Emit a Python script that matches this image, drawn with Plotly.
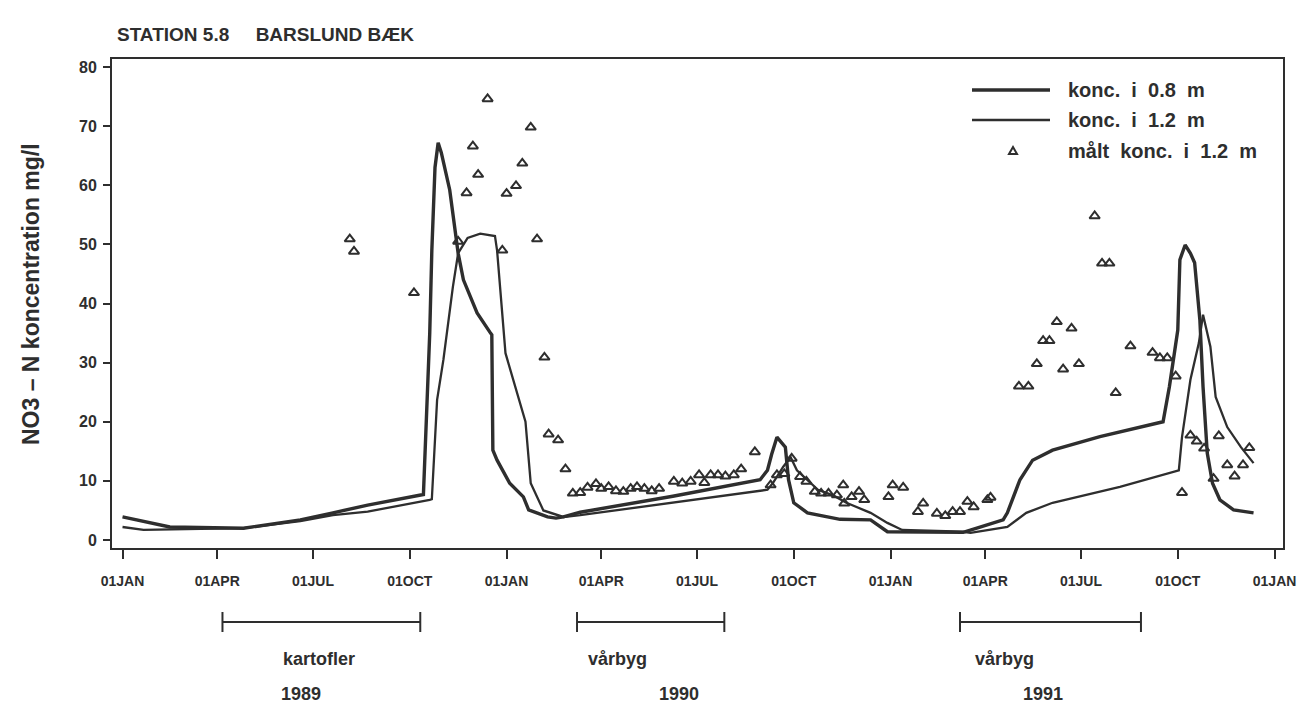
import plotly.graph_objects as go
import pandas as pd

# ---------------- data ----------------
conc08_dates = ["1989-01-01", "1989-02-15", "1989-04-26", "1989-06-19", "1989-07-20", "1989-08-22",
                "1989-10-14", "1989-10-20", "1989-10-22", "1989-10-25", "1989-10-28", "1989-10-31",
                "1989-11-08", "1989-11-16", "1989-11-21", "1989-12-04", "1989-12-16", "1989-12-18",
                "1989-12-19", "1989-12-23", "1990-01-04", "1990-01-17", "1990-01-22", "1990-02-09",
                "1990-02-17", "1990-02-24", "1990-03-12", "1990-06-08", "1990-08-30", "1990-09-06",
                "1990-09-10", "1990-09-15", "1990-09-23", "1990-09-26", "1990-10-01", "1990-10-14",
                "1990-11-14", "1990-12-13", "1990-12-29", "1991-03-11", "1991-03-27", "1991-04-18",
                "1991-04-22", "1991-05-04", "1991-05-16", "1991-06-04", "1991-07-19", "1991-08-07",
                "1991-09-17", "1991-09-23", "1991-10-01", "1991-10-03", "1991-10-08", "1991-10-13",
                "1991-10-17", "1991-10-22", "1991-10-25", "1991-10-29", "1991-11-03", "1991-11-10",
                "1991-11-23", "1991-12-12"]
conc08_values = [3.9, 2.2, 2.0, 3.4, 4.6, 5.9,
                 7.7, 35.0, 49.0, 63.0, 67.2, 65.5,
                 59.2, 48.5, 44.0, 38.4, 35.2, 34.7,
                 15.2, 13.5, 9.6, 7.3, 5.1, 3.9,
                 3.7, 3.9, 4.7, 7.4, 10.2, 11.8,
                 14.5, 17.4, 15.7, 10.2, 6.3, 4.6,
                 3.5, 3.4, 1.4, 1.3, 2.2, 3.4,
                 4.6, 10.2, 13.5, 15.2, 17.5, 18.3,
                 20.0, 25.9, 35.5, 47.4, 49.9, 48.5,
                 46.9, 37.2, 25.9, 14.7, 9.6, 6.8,
                 5.1, 4.6]

conc12_dates = ["1989-01-01", "1989-01-21", "1989-04-26", "1989-06-19", "1989-07-20", "1989-08-22",
                "1989-10-20", "1989-10-22", "1989-10-27", "1989-11-02", "1989-11-11", "1989-11-16",
                "1989-11-25", "1989-12-07", "1989-12-21", "1989-12-23", "1989-12-31", "1990-01-19",
                "1990-01-24", "1990-02-05", "1990-02-24", "1990-03-12", "1990-09-06", "1990-09-11",
                "1990-09-21", "1990-09-28", "1990-10-04", "1990-10-14", "1990-10-24", "1990-11-08",
                "1990-11-20", "1990-12-13", "1990-12-29", "1991-01-12", "1991-03-11", "1991-03-18",
                "1991-04-03", "1991-04-22", "1991-05-10", "1991-06-04", "1991-08-07", "1991-10-02",
                "1991-10-05", "1991-10-13", "1991-10-21", "1991-10-25", "1991-11-01", "1991-11-06",
                "1991-11-17", "1991-11-30", "1991-12-12"]
conc12_values = [2.2, 1.7, 2.0, 3.2, 4.2, 4.8,
                 6.8, 6.9, 23.7, 30.5, 42.8, 48.5,
                 51.1, 51.8, 51.4, 49.0, 31.6, 20.0,
                 9.6, 5.0, 3.9, 4.2, 8.5, 9.6,
                 12.4, 14.0, 11.8, 10.2, 8.5, 7.5,
                 6.3, 4.6, 2.9, 1.7, 1.4, 1.2,
                 1.7, 2.2, 4.6, 6.3, 9.0, 11.8,
                 17.4, 27.1, 33.3, 38.1, 32.7, 24.2,
                 19.1, 15.7, 13.0]

measured_dates = ["1989-08-05", "1989-08-09", "1989-10-05", "1989-11-16", "1989-11-24", "1989-11-30",
                  "1989-12-05", "1989-12-14", "1989-12-28", "1990-01-01", "1990-01-10", "1990-01-16",
                  "1990-01-24", "1990-01-30", "1990-02-06", "1990-02-10", "1990-02-19", "1990-02-26",
                  "1990-03-05", "1990-03-12", "1990-03-19", "1990-03-27", "1990-04-01", "1990-04-08",
                  "1990-04-15", "1990-04-22", "1990-04-29", "1990-05-05", "1990-05-12", "1990-05-19",
                  "1990-05-26", "1990-06-09", "1990-06-17", "1990-06-25", "1990-07-03", "1990-07-08",
                  "1990-07-14", "1990-07-21", "1990-07-28", "1990-08-05", "1990-08-12", "1990-08-25",
                  "1990-09-09", "1990-09-15", "1990-09-22", "1990-09-29", "1990-10-07", "1990-10-13",
                  "1990-10-21", "1990-10-27", "1990-11-03", "1990-11-11", "1990-11-17", "1990-11-18",
                  "1990-11-25", "1990-12-02", "1990-12-07", "1990-12-30", "1991-01-03", "1991-01-13",
                  "1991-01-27", "1991-02-01", "1991-02-14", "1991-02-22", "1991-03-01", "1991-03-08",
                  "1991-03-15", "1991-03-21", "1991-04-03", "1991-04-06", "1991-05-03", "1991-05-12",
                  "1991-05-20", "1991-05-26", "1991-06-01", "1991-06-08", "1991-06-14", "1991-06-22",
                  "1991-06-29", "1991-07-14", "1991-07-21", "1991-07-28", "1991-08-03", "1991-08-17",
                  "1991-09-07", "1991-09-14", "1991-09-21", "1991-09-29", "1991-10-05", "1991-10-13",
                  "1991-10-19", "1991-10-26", "1991-11-04", "1991-11-09", "1991-11-17", "1991-11-24",
                  "1991-12-02", "1991-12-08"]
measured_values = [50.9, 48.8, 41.8, 50.5, 58.7, 66.6,
                   61.8, 74.6, 49.0, 58.6, 59.9, 63.7,
                   69.8, 50.9, 30.9, 17.9, 16.9, 12.0,
                   7.9, 8.0, 8.9, 9.5, 8.7, 9.0,
                   8.3, 8.2, 8.7, 9.0, 8.7, 8.3,
                   8.7, 9.9, 9.6, 9.9, 11.0, 9.7,
                   11.0, 11.0, 10.8, 11.0, 12.0, 14.9,
                   9.3, 11.0, 11.2, 13.8, 10.7, 9.9,
                   8.2, 7.9, 7.9, 7.6, 9.3, 6.2,
                   7.3, 8.2, 6.8, 7.3, 9.3, 8.9,
                   4.8, 6.2, 4.5, 4.1, 4.8, 4.8,
                   6.5, 5.6, 6.8, 7.2, 26.0, 26.0,
                   29.8, 33.7, 33.7, 36.9, 28.9, 35.8,
                   29.8, 54.8, 46.8, 46.8, 24.9, 32.8,
                   31.7, 30.8, 30.8, 27.7, 8.0, 17.7,
                   16.7, 15.5, 10.4, 17.6, 12.7, 10.8,
                   12.7, 15.6]

tick_labels = ["01JAN", "01APR", "01JUL", "01OCT"] * 3 + ["01JAN"]
y_ticks = [0, 10, 20, 30, 40, 50, 60, 70, 80]

crop_names = ["kartofler", "vårbyg", "vårbyg"]
crop_starts = ["1989-04-06", "1990-03-09", "1991-03-08"]
crop_ends = ["1989-10-11", "1990-07-27", "1991-08-27"]
crop_label_dates = ["1989-07-07", "1990-04-16", "1991-04-19"]
year_labels = ["1989", "1990", "1991"]
year_label_dates = ["1989-06-20", "1990-06-14", "1991-05-26"]

legend_names = ["konc.\u00a0 i\u00a0 0.8\u00a0 m", "konc.\u00a0 i\u00a0 1.2\u00a0 m",
                "målt\u00a0 konc.\u00a0 i\u00a0 1.2\u00a0 m"]

# ---------------- layout helpers ----------------
W, H = 1305, 705
L, R, T, B = 112, 1283, 59, 548
INK = "#2e2e2e"
FONT = "Liberation Sans, Arial, sans-serif"


def px(x):
    return (x - L) / (R - L)


def py(y):
    return (B - y) / (B - T)


def bold(s):
    return f"<b>{s}</b>"


tick_dates = pd.date_range("1989-01-01", "1992-01-01", freq="QS")

fig = go.Figure()
fig.add_trace(go.Scatter(x=conc08_dates, y=conc08_values, mode="lines", name="konc. i 0.8 m",
                         line=dict(color=INK, width=3.4), showlegend=False))
fig.add_trace(go.Scatter(x=conc12_dates, y=conc12_values, mode="lines", name="konc. i 1.2 m",
                         line=dict(color=INK, width=2.3), showlegend=False))
fig.add_trace(go.Scatter(x=measured_dates, y=measured_values, mode="markers", name="målt konc. i 1.2 m",
                         marker=dict(symbol="triangle-up-open", size=9, color=INK,
                                     line=dict(color=INK, width=2)),
                         showlegend=False))

shapes = []
annotations = []

# crop period brackets below the axis
for name, s, e, ld, yl, yd in zip(crop_names, crop_starts, crop_ends, crop_label_dates,
                                  year_labels, year_label_dates):
    shapes.append(dict(type="line", xref="x", yref="paper", x0=s, x1=e, y0=py(622), y1=py(622),
                       line=dict(color=INK, width=2)))
    for d in (s, e):
        shapes.append(dict(type="line", xref="x", yref="paper", x0=d, x1=d, y0=py(612), y1=py(632),
                           line=dict(color=INK, width=2)))
    annotations.append(dict(x=ld, xref="x", y=py(659), yref="paper", text=bold(name), showarrow=False,
                            xanchor="center", yanchor="middle",
                            font=dict(family=FONT, size=18, color=INK)))
    annotations.append(dict(x=yd, xref="x", y=py(694), yref="paper", text=bold(yl), showarrow=False,
                            xanchor="center", yanchor="middle",
                            font=dict(family=FONT, size=18, color=INK)))

# legend (drawn by hand, wide line samples as in the original)
leg_y = [90, 120, 151]
shapes.append(dict(type="line", xref="paper", yref="paper", x0=px(972), x1=px(1050),
                   y0=py(leg_y[0]), y1=py(leg_y[0]), line=dict(color=INK, width=3.4)))
shapes.append(dict(type="line", xref="paper", yref="paper", x0=px(972), x1=px(1050),
                   y0=py(leg_y[1]), y1=py(leg_y[1]), line=dict(color=INK, width=2.3)))
tx, ty = 1013, leg_y[2]
shapes.append(dict(type="path", xref="paper", yref="paper",
                   path=f"M {px(tx-4)} {py(ty+3)} L {px(tx+4)} {py(ty+3)} L {px(tx)} {py(ty-4)} Z",
                   line=dict(color=INK, width=2)))
for name, yy in zip(legend_names, leg_y):
    annotations.append(dict(x=px(1066), y=py(yy), xref="paper", yref="paper", text=bold(name),
                            showarrow=False, xanchor="left", yanchor="middle",
                            font=dict(family=FONT, size=20, color=INK)))

# title and y-axis title
annotations.append(dict(x=px(115), y=py(34), xref="paper", yref="paper",
                        text=bold("STATION 5.8\u00a0\u00a0\u00a0\u00a0\u00a0BARSLUND BÆK"),
                        showarrow=False, xanchor="left", yanchor="middle",
                        font=dict(family=FONT, size=19, color=INK)))
annotations.append(dict(x=px(31), y=py(294), xref="paper", yref="paper",
                        text=bold("NO3 – N koncentration mg/l"), textangle=-90,
                        showarrow=False, xanchor="center", yanchor="middle",
                        font=dict(family=FONT, size=23, color=INK)))

fig.update_layout(
    width=W, height=H,
    margin=dict(l=L, r=W - R, t=T, b=H - B, autoexpand=False),
    paper_bgcolor="white", plot_bgcolor="white",
    font=dict(family=FONT, color=INK),
    shapes=shapes, annotations=annotations,
    showlegend=False,
)
fig.update_xaxes(
    type="date", range=["1988-12-22", "1992-01-09"],
    tickmode="array", tickvals=tick_dates, ticktext=[bold(t) for t in tick_labels],
    ticks="outside", ticklen=9, tickwidth=2, tickcolor=INK,
    tickfont=dict(family=FONT, size=14, color=INK), ticklabelstandoff=10,
    showline=True, linecolor=INK, linewidth=2, mirror=True,
    showgrid=False, zeroline=False,
)
fig.update_yaxes(
    range=[-1.35, 81.35], tickmode="array", tickvals=y_ticks,
    ticktext=[bold(str(v)) for v in y_ticks],
    ticks="outside", ticklen=7, tickwidth=2, tickcolor=INK,
    tickfont=dict(family=FONT, size=16, color=INK), ticklabelstandoff=3,
    showline=True, linecolor=INK, linewidth=2, mirror=True,
    showgrid=False, zeroline=False,
)

fig.write_html("out.html")
